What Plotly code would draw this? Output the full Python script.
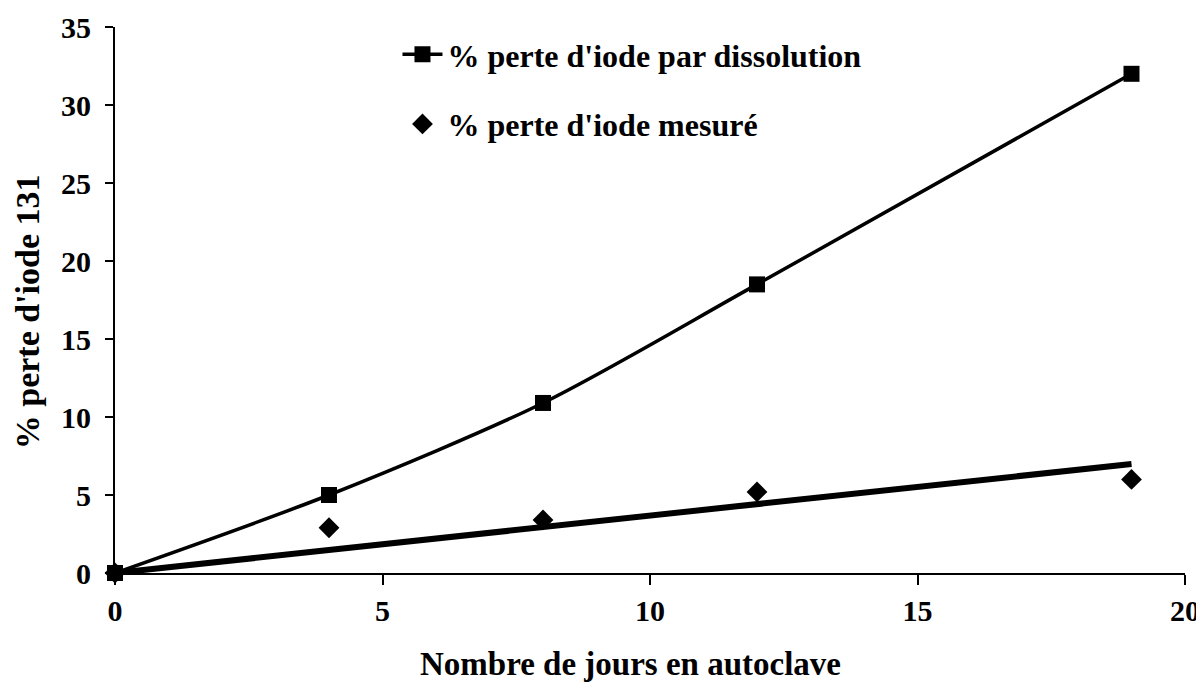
import numpy as np
import plotly.graph_objects as go

# Data
jours = [0, 4, 8, 12, 19]
perte_dissolution = [0, 5.0, 10.9, 18.5, 32.0]
perte_mesure = [0, 2.9, 3.4, 5.2, 6.0]

name_dissolution = "% perte d'iode par dissolution"
name_mesure = "% perte d'iode mesuré"
x_title = "Nombre de jours en autoclave"
y_title = "% perte d'iode 131"

# Linear trendline through origin for the measured series
xm = np.array(jours, dtype=float)
ym = np.array(perte_mesure, dtype=float)
slope = float((xm * ym).sum() / (xm * xm).sum())
trend_x = [jours[0], jours[-1]]
trend_y = [slope * v for v in trend_x]

FONT = "Liberation Serif, Times New Roman, serif"

fig = go.Figure()
fig.add_trace(go.Scatter(
    x=jours, y=perte_dissolution, mode="lines+markers", name=name_dissolution,
    line=dict(color="black", width=3.5, shape="spline", smoothing=0.8),
    marker=dict(symbol="square", size=16, color="black"),
    cliponaxis=False, legendgroup="a",
))
fig.add_trace(go.Scatter(
    x=trend_x, y=trend_y, mode="lines", showlegend=False,
    line=dict(color="black", width=6), cliponaxis=False,
))
fig.add_trace(go.Scatter(
    x=jours, y=perte_mesure, mode="markers", name=name_mesure,
    marker=dict(symbol="diamond", size=16, color="black"),
    cliponaxis=False, legendgroup="b",
))

# The page body adds an 8px margin, so the figure is sized to fit the window.
fig.update_layout(
    width=1196, height=681,
    margin=dict(l=107, r=19, t=19, b=116),
    paper_bgcolor="white", plot_bgcolor="white",
    font=dict(family=FONT, size=30, color="black", weight="bold"),
    showlegend=True,
    legend=dict(
        x=0.264, y=1.0, xanchor="left", yanchor="top",
        bgcolor="rgba(0,0,0,0)", tracegroupgap=25,
        font=dict(family=FONT, size=32, color="black", weight="bold"),
        itemwidth=40,
    ),
    xaxis=dict(
        range=[0, 20], tickvals=[0, 5, 10, 15, 20], ticks="outside", ticklen=10,
        tickwidth=1.5, tickcolor="black", showline=True, linecolor="black",
        linewidth=2, showgrid=False, zeroline=False, automargin=False,
        tickfont=dict(family=FONT, size=30, color="black", weight="bold"),
        ticklabelstandoff=0,
    ),
    yaxis=dict(
        range=[0, 35], tickvals=[0, 5, 10, 15, 20, 25, 30, 35], ticks="outside",
        ticklen=8, tickwidth=1.5, tickcolor="black", showline=True,
        linecolor="black", linewidth=2, showgrid=False, zeroline=False,
        automargin=False,
        tickfont=dict(family=FONT, size=30, color="black", weight="bold"),
        ticklabelstandoff=8,
    ),
    annotations=[
        dict(text=x_title, xref="paper", yref="paper", x=0.482, y=-0.167,
             xanchor="center", yanchor="middle", showarrow=False,
             font=dict(family=FONT, size=33, color="black", weight="bold")),
        dict(text=y_title, xref="paper", yref="paper", x=-0.082, y=0.478,
             xanchor="center", yanchor="middle", showarrow=False, textangle=-90,
             font=dict(family=FONT, size=34, color="black", weight="bold")),
    ],
)

fig.write_html("out.html")
